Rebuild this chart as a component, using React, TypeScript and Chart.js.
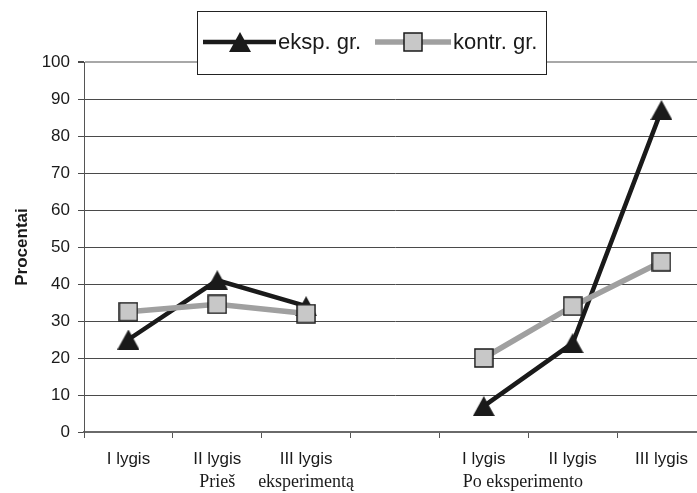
import React, { useEffect, useRef } from "react";
import { Chart, registerables } from "chart.js";

Chart.register(...registerables);

const categories = ["I lygis", "II lygis", "III lygis", "", "I lygis", "II lygis", "III lygis"];
const eksp = [25, 41, 34, null, 7, 24, 87];
const kontr = [32.5, 34.5, 32, null, 20, 34, 46];
const seriesNames = ["eksp. gr.", "kontr. gr."];
const yTicks = [0, 10, 20, 30, 40, 50, 60, 70, 80, 90, 100];
const groupLabels = [
  { text: "Prieš", at: 1 },
  { text: "eksperimentą", at: 2 },
  { text: "Po eksperimento", at: 4.44 },
];

const SANS = "'Liberation Sans', Arial, sans-serif";
const SERIF = "'Liberation Serif', 'Times New Roman', serif";
const DARK = "#1a1a1a";
const GRAY_LINE = "#a0a0a0";
const CW = 706;
const CH = 493;

function makeTriangle(): HTMLCanvasElement {
  const c = document.createElement("canvas");
  c.width = 22;
  c.height = 20;
  const g = c.getContext("2d")!;
  g.fillStyle = DARK;
  g.beginPath();
  g.moveTo(11, 0);
  g.lineTo(22, 20);
  g.lineTo(0, 20);
  g.closePath();
  g.fill();
  return c;
}

function makeSquare(): HTMLCanvasElement {
  const c = document.createElement("canvas");
  c.width = 20;
  c.height = 20;
  const g = c.getContext("2d")!;
  g.fillStyle = "#c8c8c8";
  g.fillRect(1, 1, 18, 18);
  g.strokeStyle = DARK;
  g.lineWidth = 1.5;
  g.strokeRect(1, 1, 18, 18);
  return c;
}

export default function App() {
  const ref = useRef<HTMLCanvasElement | null>(null);

  useEffect(() => {
    if (!ref.current) return;
    const tri = makeTriangle();
    const sq = makeSquare();

    const legendPlugin = {
      id: "boxLegend",
      afterDraw(chart: any) {
        const ctx = chart.ctx;
        ctx.save();
        const L = 197, T = 11, W = 349, H = 63;
        ctx.fillStyle = "#fff";
        ctx.fillRect(L, T, W, H);
        ctx.strokeStyle = "#222";
        ctx.lineWidth = 1;
        ctx.strokeRect(L + 0.5, T + 0.5, W, H);
        const cy = 42;
        ctx.strokeStyle = DARK;
        ctx.lineWidth = 4.5;
        ctx.beginPath();
        ctx.moveTo(203, cy);
        ctx.lineTo(276, cy);
        ctx.stroke();
        ctx.drawImage(tri, 240 - tri.width / 2, cy - tri.height / 2);
        ctx.strokeStyle = GRAY_LINE;
        ctx.lineWidth = 5.5;
        ctx.beginPath();
        ctx.moveTo(375, cy);
        ctx.lineTo(451, cy);
        ctx.stroke();
        ctx.drawImage(sq, 413 - sq.width / 2, cy - sq.height / 2);
        ctx.fillStyle = DARK;
        ctx.font = `22px ${SANS}`;
        ctx.textBaseline = "middle";
        ctx.textAlign = "left";
        ctx.fillText(seriesNames[0], 278, cy + 1);
        ctx.fillText(seriesNames[1], 453, cy + 1);
        ctx.restore();
      },
    };

    const groupPlugin = {
      id: "groupLabels",
      afterDraw(chart: any) {
        const x = chart.scales.x;
        const ctx = chart.ctx;
        ctx.save();
        ctx.fillStyle = DARK;
        ctx.font = `18px ${SERIF}`;
        ctx.textAlign = "center";
        ctx.textBaseline = "middle";
        for (const g of groupLabels) {
          ctx.fillText(g.text, x.getPixelForValue(g.at), x.top + 50);
        }
        ctx.restore();
      },
    };

    const chart = new Chart(ref.current, {
      type: "line",
      data: {
        labels: categories,
        datasets: [
          {
            label: seriesNames[0],
            data: eksp,
            borderColor: DARK,
            borderWidth: 4.5,
            pointStyle: tri as any,
            pointRadius: 0.1,
            pointHoverRadius: 0.1,
            pointBorderWidth: 0,
            pointHoverBorderWidth: 0,
            spanGaps: false,
            tension: 0,
            order: 1,
          },
          {
            label: seriesNames[1],
            data: kontr,
            borderColor: GRAY_LINE,
            borderWidth: 5.5,
            pointStyle: sq as any,
            pointRadius: 0.1,
            pointHoverRadius: 0.1,
            pointBorderWidth: 0,
            pointHoverBorderWidth: 0,
            spanGaps: false,
            tension: 0,
            order: 0,
          },
        ],
      },
      options: {
        animation: false,
        responsive: false,
        devicePixelRatio: 1,
        layout: { padding: { top: 62, left: 0, right: 0, bottom: 0 } },
        plugins: {
          legend: { display: false },
          tooltip: { enabled: false },
        },
        scales: {
          x: {
            type: "category",
            offset: true,
            grid: {
              display: true,
              drawOnChartArea: false,
              drawTicks: true,
              tickLength: 6,
              offset: true,
              color: "#555",
            },
            border: { display: true, color: "#6a6a6a", width: 2 },
            ticks: {
              color: DARK,
              font: { family: SANS, size: 17 },
              padding: 11,
              maxRotation: 0,
              autoSkip: false,
            },
            afterFit: (s: any) => {
              s.height = 61;
              s.paddingLeft = 0;
              s.paddingRight = 0;
            },
          },
          y: {
            min: 0,
            max: 100,
            afterBuildTicks: (s: any) => {
              s.ticks = yTicks.map((v) => ({ value: v }));
            },
            grid: {
              color: (c: any) => (c.tick && c.tick.value === 100 ? "#a8a8a8" : "#4a4a4a"),
              lineWidth: (c: any) => (c.tick && c.tick.value === 100 ? 2 : 1),
              tickColor: "#4a4a4a",
              tickLength: 6,
              drawTicks: true,
            },
            border: { display: true, color: "#555", width: 1 },
            ticks: {
              color: DARK,
              font: { family: SANS, size: 17 },
              padding: 8,
            },
            title: {
              display: true,
              text: "Procentai",
              color: DARK,
              font: { family: SANS, size: 17, weight: "bold" },
              padding: { top: 12, bottom: 0 },
            },
            afterFit: (s: any) => {
              s.width = 84;
            },
          },
        },
      },
      plugins: [legendPlugin, groupPlugin],
    });

    return () => chart.destroy();
  }, []);

  return (
    <div
      style={{
        position: "fixed",
        left: 0,
        top: 0,
        width: 697,
        height: CH,
        overflow: "hidden",
        background: "#fff",
      }}
    >
      <canvas
        ref={ref}
        width={CW}
        height={CH}
        style={{ display: "block", width: CW, height: CH }}
      />
    </div>
  );
}
